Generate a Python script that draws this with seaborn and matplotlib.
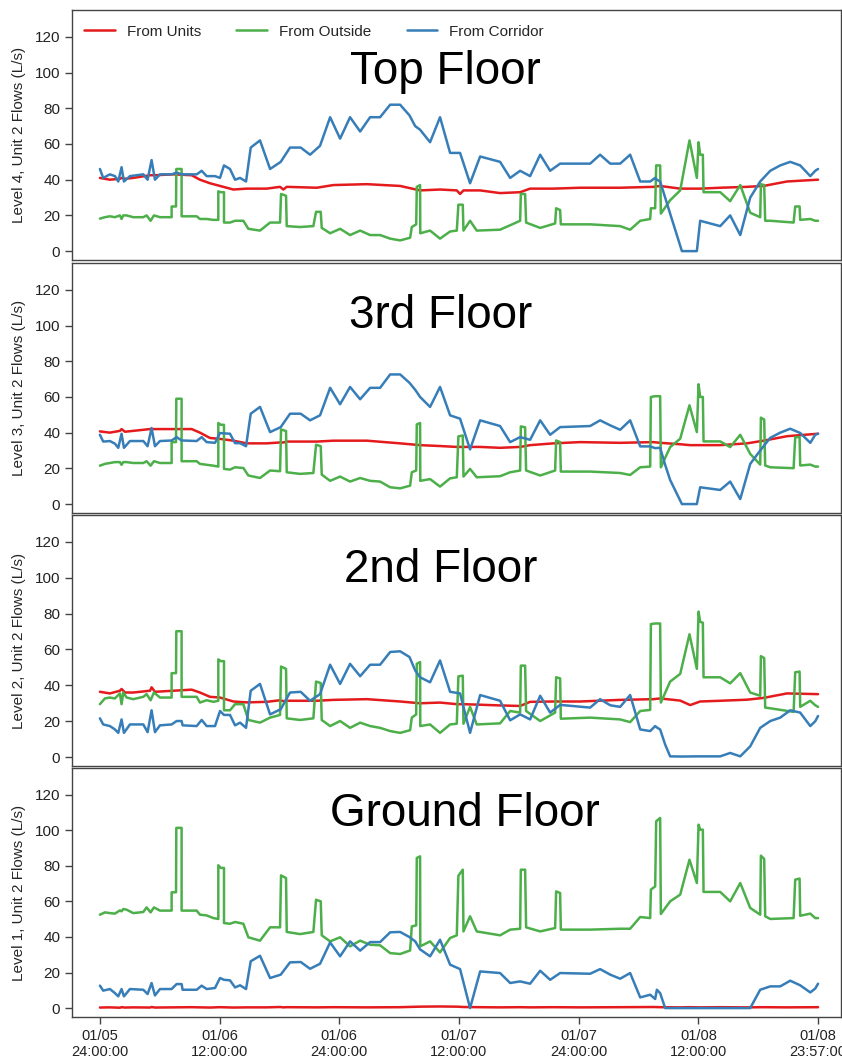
import pandas as pd
import matplotlib.pyplot as plt
import seaborn as sns

# godziny od 01/05 24:00:00
units_hours = [0.0, 1.0, 2.01, 2.17, 2.51, 3.34, 5.02, 5.18, 5.52, 7.36,
               9.2, 10.03, 11.04, 12.04, 13.38, 14.72, 16.72, 18.06, 18.39, 18.73,
               21.74, 23.41, 26.76, 30.1, 32.1, 34.1, 35.78, 36.11, 36.45, 38.12,
               40.12, 42.13, 43.13, 45.47, 48.15, 52.16, 55.5, 56.17, 58.18, 59.18,
               60.18, 62.19, 64.87, 66.54, 68.88, 72.0]

outside_hours = [0.0, 0.5, 1.0, 1.5, 2.0, 2.17, 2.34, 2.68, 3.34, 4.35,
                 4.68, 5.08, 5.42, 6.02, 7.19, 7.19, 7.63, 7.66, 8.19, 8.19,
                 9.7, 10.03, 10.7, 11.37, 11.87, 11.87, 12.11, 12.44, 12.44, 13.04,
                 13.55, 14.38, 14.88, 16.05, 17.06, 18.06, 18.16, 18.66, 18.73, 20.07,
                 21.4, 21.67, 22.14, 22.24, 23.08, 24.08, 25.08, 26.09, 27.09, 28.09,
                 29.1, 30.1, 31.1, 31.27, 31.71, 31.77, 32.1, 32.12, 33.1, 34.1,
                 35.11, 35.78, 35.94, 36.38, 36.45, 37.11, 37.78, 40.12, 41.13, 42.13,
                 42.2, 42.63, 42.73, 44.14, 45.64, 45.74, 46.14, 46.21, 49.15, 52.16,
                 53.16, 54.17, 55.17, 55.24, 55.67, 55.77, 56.17, 56.24, 57.17, 58.18,
                 59.11, 59.85, 60.02, 60.18, 60.45, 60.52, 62.19, 63.19, 64.2, 65.2,
                 66.2, 66.27, 66.6, 66.7, 67.21, 69.55, 69.71, 70.15, 70.21, 71.22,
                 71.72, 72.0]

corridor_hours = [0.0, 0.33, 1.0, 1.51, 1.84, 2.17, 2.41, 3.01, 4.35, 4.78,
                  5.18, 5.52, 6.02, 7.19, 7.69, 8.19, 8.29, 9.7, 10.2, 10.7,
                  11.54, 12.04, 12.44, 13.04, 13.55, 14.05, 14.65, 15.12, 16.05, 17.06,
                  18.13, 19.06, 20.13, 21.07, 22.07, 23.08, 24.08, 25.08, 26.09, 27.09,
                  28.09, 29.1, 30.1, 31.04, 31.61, 32.1, 33.1, 34.1, 35.11, 36.11,
                  37.11, 38.12, 40.12, 41.13, 42.13, 43.13, 44.14, 45.14, 46.14, 49.15,
                  50.15, 51.16, 52.16, 53.16, 54.17, 55.17, 55.67, 55.84, 56.17, 56.67,
                  57.17, 58.35, 59.85, 60.18, 62.19, 63.19, 64.2, 65.2, 66.2, 67.21,
                  68.21, 69.21, 70.21, 71.22, 71.72, 72.0]

# --- Top Floor (Level 4) ---
units_l4 = [41, 40, 40.5, 41, 40.5, 41, 42.5, 42.5, 42.5, 43,
            42.5, 40, 38, 36.5, 34.5, 35, 35, 36, 34.5, 36,
            35.5, 37, 37.5, 36.5, 34, 34.5, 34, 32, 34, 34,
            32.5, 33, 35, 35, 35.5, 35.5, 36, 36.5, 35, 35,
            35, 35.5, 36, 36.5, 39, 40]
outside_l4 = [18.2, 19, 19.5, 19, 20, 18, 20, 20, 19, 19,
              20, 17, 20, 19, 19, 25, 25, 46, 46, 19.5,
              19.5, 18, 18, 17.5, 17.5, 33.5, 33, 33, 16, 16,
              17, 17, 12.5, 11.5, 16, 16, 32, 31, 14, 13.5,
              14, 22, 22, 13, 10, 12.5, 9, 11.5, 9, 9,
              7, 6, 7.5, 13.5, 15, 36, 37, 10, 11.5, 7,
              11, 11.5, 26, 26, 11.5, 17, 11.5, 12, 14.5, 17,
              32, 32, 16, 13, 15.5, 24, 23, 15, 15, 14,
              12, 17, 18, 24, 24, 48, 48, 21, 28.5, 34,
              62, 41, 61, 54, 54, 33, 33, 28, 37, 21.5,
              19, 37.5, 37, 17, 17, 16, 25, 25, 17.5, 18,
              17, 17]
corridor_l4 = [46, 41, 43, 42, 39, 47, 39, 42, 43, 40,
               51, 40, 43, 43, 44, 43, 43, 43, 45, 42,
               42, 41, 48, 46, 40, 41, 39, 58, 62, 46,
               50, 58, 58, 54, 59, 75, 63, 75, 67, 75,
               75, 82, 82, 76, 70, 68, 61, 75, 55, 55,
               38, 53, 50, 41, 45, 42, 54, 45, 49, 49,
               54, 49, 49, 54, 39, 39, 41, 40, 39, 30,
               21, 0, 0, 17, 14, 20, 9, 30, 39, 45,
               48, 50, 48, 42, 45, 46]

# --- 3rd Floor (Level 3) ---
units_l3 = [40.7, 40, 41, 42, 40.5, 41, 42, 42, 42, 42,
            42, 40, 37, 36.5, 35.5, 34, 34, 34.5, 34.5, 35,
            35, 35.5, 35.5, 34, 33, 32.5, 32, 32, 32, 32,
            31.5, 32, 33, 34, 34.7, 34.3, 34.7, 34.3, 33.5, 33,
            33, 33, 34, 35.5, 38, 39.4]
outside_l3 = [21.5, 22.5, 23, 23.5, 23.5, 22, 23.5, 23.5, 23, 23,
              24, 21.5, 24, 23, 23, 34.7, 34.7, 59, 59, 24,
              24, 22.5, 22, 21.5, 21, 45.4, 44.4, 44.4, 19.7, 19.3,
              20.6, 20.2, 16, 14.6, 18.8, 18.4, 41.8, 40.9, 17.8, 16.9,
              17.4, 33.2, 32.4, 16.5, 13, 15.4, 12.6, 14.6, 13, 12.6,
              9.4, 8.8, 10.3, 17.8, 18.8, 44.6, 45.4, 13, 14, 9.8,
              14.4, 15, 37.9, 38.4, 15.4, 19.7, 15, 15.6, 17.8, 18.8,
              43.5, 43, 18.8, 16, 18.8, 35.6, 34.7, 18.2, 18.2, 17.4,
              16.3, 20.6, 21, 60, 60.4, 60.4, 60.4, 20.6, 31.9, 36.6,
              55.3, 40.3, 67.1, 60, 60, 35.1, 35.1, 31.9, 38.8, 28.1,
              22.1, 48.4, 47.3, 21.6, 20.6, 20.1, 37.5, 37.5, 21.6, 22.1,
              21, 21]
corridor_l3 = [38.8, 35, 35.3, 33.8, 31.5, 39.4, 31.5, 35.3, 35.3, 32.4,
               42.6, 32.4, 35.3, 35.6, 37.5, 35.6, 35.6, 35.3, 37.5, 34.7,
               34.3, 39.8, 39.6, 39.4, 34.1, 34.1, 32.4, 50.6, 54.4, 40.3,
               43.1, 50.6, 50.6, 46.9, 49.7, 65.1, 55.9, 65.6, 58.7, 65.1,
               65.1, 72.6, 72.6, 67.9, 64, 60, 54.4, 65.6, 49.7, 47.8,
               30.6, 46.9, 43.7, 34.7, 37.5, 36, 46.9, 38.8, 43.1, 43.7,
               46.9, 44.1, 41.6, 46.9, 32.3, 32.3, 31.3, 31.4, 31.5, 22,
               13.5, 0, 0, 9.4, 7.9, 12.6, 2.8, 22.5, 30, 37.1,
               40, 42.2, 39.8, 34.3, 38.8, 39.4]

# --- 2nd Floor (Level 2) ---
units_l2 = [36.4, 35.5, 37, 38, 36, 36, 37, 38.9, 36.4, 37,
            37.6, 36, 33.6, 33.2, 31, 30.5, 30.8, 31.7, 31.2, 31.4,
            31.4, 31.9, 32.3, 31, 30, 30.4, 29.5, 29.5, 29.5, 29.2,
            28.8, 28.5, 30.8, 31, 31, 31.9, 32.3, 32.7, 31.5, 29,
            31, 31.4, 32, 33, 35.5, 35.1]
outside_l2 = [29.5, 32.7, 33.2, 32.7, 35.5, 29.5, 36, 33.2, 32.3, 33.6,
              35.1, 31.7, 36, 33.2, 33.2, 46.8, 46.8, 70.2, 70.2, 33.6,
              33.6, 30.4, 31.7, 30.8, 31.4, 54.5, 53.5, 53.5, 26.1, 26.1,
              29.5, 29.5, 20.7, 19.2, 22, 23.5, 50.5, 49.2, 21.6, 20.7,
              21.6, 42.1, 41.3, 20.7, 17.3, 20.1, 16.3, 19.2, 17.3, 16.3,
              14.5, 13.5, 15, 22, 23.8, 52, 53, 17.3, 18.2, 13.5,
              18.2, 18.6, 45, 45.4, 18.6, 28, 18.2, 18.8, 25.7, 24.8,
              51, 51, 25.7, 20.1, 24.8, 44.5, 43.9, 21.4, 22, 21,
              19.5, 25.7, 26.3, 74.2, 74.5, 74.5, 74.5, 30.4, 42.1, 46.4,
              68.5, 49.2, 81.1, 75.5, 74.9, 44.5, 44.5, 41.1, 46.8, 36,
              34.2, 56.3, 55.2, 27.6, 27.2, 25.2, 47.3, 47.7, 28, 31.4,
              28.9, 28]
corridor_l2 = [21.6, 18.2, 17.3, 15.4, 13.5, 21, 13.5, 18.2, 18.2, 13.9,
               26.1, 13.9, 17.7, 18.2, 20.1, 20.1, 17.7, 17.3, 20.7, 17.3,
               17.3, 25.7, 23.5, 23.5, 17.7, 19.2, 16.3, 37, 40.8, 23.8,
               26.7, 36, 36.4, 31.4, 35.1, 51.5, 40.8, 52, 45.1, 51.5,
               51.5, 58.6, 59, 55.8, 48.3, 44.5, 41.7, 53.9, 36.4, 35.5,
               13.5, 34.6, 31.4, 20.5, 23.8, 21, 34.2, 24.8, 29.1, 27.6,
               32.3, 28.9, 28, 34.6, 15.4, 14.5, 17.3, 16.5, 15.4, 7,
               0.4, 0.3, 0.4, 0.4, 0.4, 2.3, 0.4, 6, 16.3, 20.1,
               22, 26.1, 24.8, 17.3, 20, 22.9]

# --- Ground Floor (Level 1) ---
units_l1 = [0.3, 0.4, 0.2, 0.5, 0.3, 0.4, 0.3, 0.6, 0.3, 0.4,
            0.5, 0.4, 0.3, 0.5, 0.3, 0.4, 0.4, 0.6, 0.4, 0.5,
            0.4, 0.5, 0.4, 0.5, 0.8, 0.9, 0.8, 0.7, 0.6, 0.5,
            0.4, 0.5, 0.4, 0.5, 0.4, 0.5, 0.6, 0.5, 0.4, 0.5,
            0.4, 0.5, 0.4, 0.5, 0.4, 0.5]
outside_l1 = [52.5, 53.8, 53.4, 53.1, 54.9, 54.4, 55.7, 55.3, 53.4, 54,
              56.6, 53.8, 56.6, 54.8, 54.8, 65.1, 65.1, 101.3, 101.3, 54.8,
              54.8, 52.5, 52.1, 50.6, 50.1, 80.3, 78.8, 78.8, 47.8, 47.4,
              48.4, 47.4, 39.8, 37.9, 45.4, 45.4, 74.6, 73.1, 42.8, 41.6,
              42.8, 60.9, 60, 40.9, 37.5, 39.8, 34.7, 37.9, 35.6, 35.3,
              30.9, 30.4, 32.4, 45.9, 46.5, 84.4, 85.3, 34.7, 37.5, 31.3,
              39.4, 40.9, 74.4, 77.8, 43.1, 51.6, 43.1, 40.9, 44.1, 44.6,
              77.8, 77.8, 45.4, 43.1, 45, 65.6, 64.7, 44.1, 44.1, 44.6,
              44.6, 51.2, 50.6, 66.6, 68.4, 105, 106.9, 52.9, 60, 63.8,
              83.4, 70.3, 103.1, 100.3, 100.3, 65.3, 65.3, 60, 70.3, 56.3,
              52.5, 85.7, 83.8, 51.6, 50.1, 50.6, 72.2, 72.8, 51.9, 53.1,
              50.6, 50.6]
corridor_l1 = [12.6, 9.8, 10.7, 8.4, 6.6, 10.7, 6.6, 10.7, 10.3, 7.9,
               14.1, 7.1, 10.7, 10.7, 13.5, 13.5, 10.3, 10.3, 12.6, 10.7,
               11.3, 16.9, 15.9, 15.6, 11.6, 12.8, 10.7, 26.3, 29.4, 16.9,
               18.8, 25.7, 25.9, 22.1, 24.9, 36.9, 29.1, 37.5, 32.3, 37.1,
               37.1, 42.6, 42.8, 39.9, 37.5, 33, 29.1, 38.4, 24.4, 21.9,
               0, 20.6, 19.7, 14.1, 15, 13.7, 21, 15.9, 19.7, 19.3,
               21.9, 18.8, 16.5, 19.7, 6, 7.5, 5.1, 10.3, 8.4, 0,
               0, 0, 0, 0, 0, 0, 0, 0, 10.3, 12.2,
               12.2, 15.4, 12.8, 8.8, 11, 13.7]

floor_titles = ["Top Floor", "3rd Floor", "2nd Floor", "Ground Floor"]
floor_ylabels = ["Level 4, Unit 2 Flows (L/s)", "Level 3, Unit 2 Flows (L/s)",
                 "Level 2, Unit 2 Flows (L/s)", "Level 1, Unit 2 Flows (L/s)"]
tick_hours = [0, 12, 24, 36, 48, 60, 72]
tick_labels = ["01/05\n24:00:00", "01/06\n12:00:00", "01/06\n24:00:00", "01/07\n12:00:00",
               "01/07\n24:00:00", "01/08\n12:00:00", "01/08\n23:57:00"]

floor_data = [(units_l4, outside_l4, corridor_l4),
              (units_l3, outside_l3, corridor_l3),
              (units_l2, outside_l2, corridor_l2),
              (units_l1, outside_l1, corridor_l1)]

series_names = ["From Units", "From Outside", "From Corridor"]
palette = {"From Units": "#E41A1C", "From Outside": "#4DAF4A", "From Corridor": "#377EB8"}

sns.set_style("ticks")
plt.rcParams['font.family'] = ['Liberation Sans', 'DejaVu Sans']

fig = plt.figure(figsize=(8.42, 10.61), dpi=100)

# położenie paneli (lewo, dół, szerokość, wysokość) w ułamkach figury
rects = [(0.0855, 0.7549, 0.9133, 0.2356),
         (0.0855, 0.5165, 0.9133, 0.2356),
         (0.0855, 0.2780, 0.9133, 0.2366),
         (0.0855, 0.0415, 0.9133, 0.2347)]
title_pos = [(0.486, 0.752), (0.48, 0.79), (0.48, 0.78), (0.511, 0.816)]

for i, (units, outside, corridor) in enumerate(floor_data):
    ax = fig.add_axes(rects[i])
    df = pd.concat([
        pd.DataFrame({"hour": units_hours, "flow": units, "series": series_names[0]}),
        pd.DataFrame({"hour": outside_hours, "flow": outside, "series": series_names[1]}),
        pd.DataFrame({"hour": corridor_hours, "flow": corridor, "series": series_names[2]}),
    ], ignore_index=True)

    sns.lineplot(data=df, x="hour", y="flow", hue="series", palette=palette,
                 estimator=None, sort=False, lw=1.8, ax=ax, legend=(i == 0))

    ax.set_xlim(-2.8, 74.3)
    ax.set_ylim(-5, 135)
    ax.set_yticks(range(0, 121, 20))
    ax.set_ylabel(floor_ylabels[i], fontsize=11, labelpad=6)
    ax.set_xlabel("")
    for side in ax.spines.values():
        side.set_visible(True)
        side.set_color("#444444")
        side.set_linewidth(1.0)
    ax.tick_params(axis="y", direction="out", length=5, width=1, labelsize=11,
                   color="#444444", labelcolor="#222222")
    if i == 3:
        ax.set_xticks(tick_hours)
        ax.set_xticklabels(tick_labels)
        ax.tick_params(axis="x", direction="out", length=5, width=1, labelsize=10.5,
                       color="#444444", labelcolor="#222222")
    else:
        ax.tick_params(axis="x", bottom=False, labelbottom=False)

    ax.text(title_pos[i][0], title_pos[i][1], floor_titles[i], transform=ax.transAxes,
            ha="center", va="center", fontsize=33, color="black")

    if i == 0:
        sns.move_legend(ax, "upper left", bbox_to_anchor=(0.0, 0.99), ncol=3, frameon=False,
                        title=None, fontsize=11, handlelength=2.0, handletextpad=0.8,
                        columnspacing=2.3, borderaxespad=0.4)

plt.savefig("out.png", dpi=100)
